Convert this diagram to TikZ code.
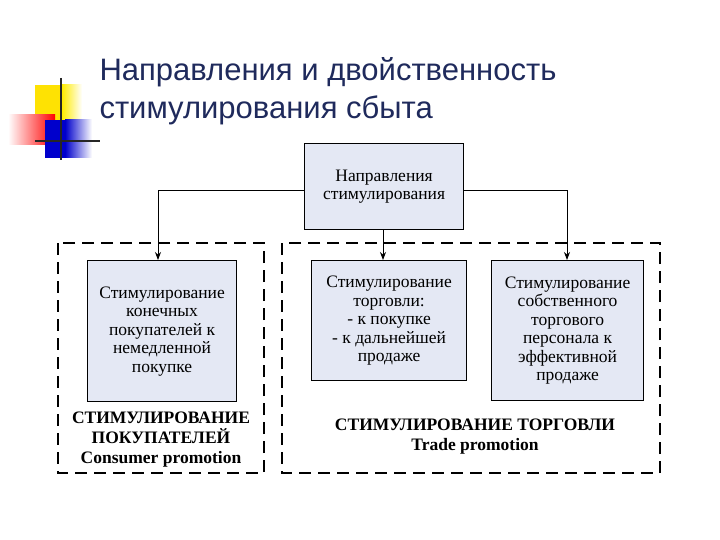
\documentclass[tikz,border=0pt]{standalone}
\usepackage{fontspec}
\setmainfont{Liberation Serif}
\newfontfamily\titlefont{Liberation Sans}
\usetikzlibrary{arrows.meta}
\definecolor{boxfill}{HTML}{E4E8F4}
\definecolor{titleblue}{HTML}{1F2A5C}
\tikzset{x=1pt,y=-1pt,
 box/.style={draw,line width=1.2pt,fill=boxfill,align=center,font=\fontsize{17.5}{18.5}\selectfont,anchor=north west,inner sep=2pt},
 dbox/.style={draw,line width=1.8pt,dash pattern=on 12pt off 7pt},
 conn/.style={line width=0.8pt},
 arr/.style={conn,-{Stealth[length=8pt,width=6pt]}}}
\begin{document}
\begin{tikzpicture}
\useasboundingbox (0,0) rectangle (720,540);
% logo
\fill[yellow!85!orange] (35,85) rectangle (62,130);
\shade[left color=yellow!85!orange,right color=white] (62,85) rectangle (82,130);
\shade[left color=white,right color=red] (8,115) rectangle (55,145);
\fill[blue!80!black] (45,120) rectangle (65,158);
\shade[left color=blue!80!black,right color=white] (65,120) rectangle (92,158);
\draw[line width=1.2pt,black!85] (61,78) -- (61,160);
\draw[line width=1.2pt,black!85] (35,141) -- (100,141);
\node[anchor=west,font=\titlefont\fontsize{31}{38}\selectfont,text=titleblue,align=left] (title) at (96,91) {Направления и двойственность\\стимулирования сбыта};
% boxes
\node[box,minimum width=159pt,minimum height=86pt] (top) at (304,143) {Направления\\стимулирования};
\draw[dbox] (58,243) rectangle (264,473);
\draw[dbox] (282,243) rectangle (660,473);
\node[box,minimum width=149pt,minimum height=141pt] (b1) at (87,260) {Стимулирование\\конечных\\покупателей к\\немедленной\\покупке};
\node[box,minimum width=155pt,minimum height=120pt] (b2) at (311,260) {Стимулирование\\торговли:\\- к покупке\\- к дальнейшей\\продаже};
\node[box,minimum width=152pt,minimum height=140pt] (b3) at (491,260) {Стимулирование\\собственного\\торгового\\персонала к\\эффективной\\продаже};
\node[align=center,font=\bfseries\fontsize{17.5}{20}\selectfont] (l1) at (161,440) {СТИМУЛИРОВАНИЕ\\ПОКУПАТЕЛЕЙ\\Consumer promotion};
\node[align=center,font=\bfseries\fontsize{17.5}{20}\selectfont] (l2) at (475,437) {СТИМУЛИРОВАНИЕ ТОРГОВЛИ\\Trade promotion};
% connectors
\draw[arr] (top.west |- 0,190) -| (b1.north -| 158,0);
\draw[arr] (top.east |- 0,190) -| (b3.north -| 567,0);
\draw[arr] (top.south -| 383,0) -- (b2.north -| 383,0);
\end{tikzpicture}
\end{document}
